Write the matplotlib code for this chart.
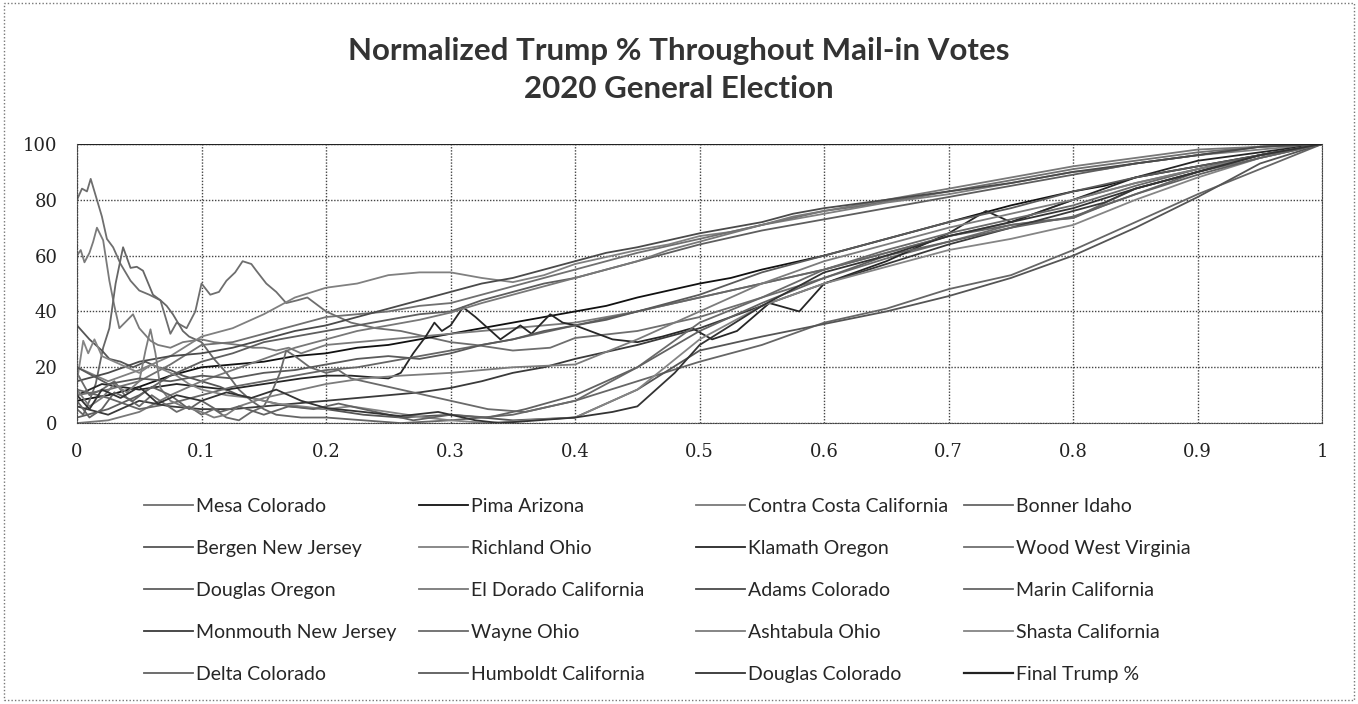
import matplotlib
matplotlib.use("Agg")
import matplotlib.pyplot as plt
from matplotlib.patches import Rectangle

# ---- data (normalized Trump %, 0..100) ----
names = ["Mesa Colorado", "Pima Arizona", "Contra Costa California", "Bonner Idaho",
         "Bergen New Jersey", "Richland Ohio", "Klamath Oregon", "Wood West Virginia",
         "Douglas Oregon", "El Dorado California", "Adams Colorado", "Marin California",
         "Monmouth New Jersey", "Wayne Ohio", "Ashtabula Ohio", "Shasta California",
         "Delta Colorado", "Humboldt California", "Douglas Colorado"]

# fine grid (step 0.025) used by the smoother curves
x_f = [0, 0.025, 0.05, 0.075, 0.1, 0.125, 0.15, 0.175, 0.2, 0.225, 0.25, 0.275, 0.3,
       0.325, 0.35, 0.375, 0.4, 0.425, 0.45, 0.475, 0.5, 0.525, 0.55, 0.575, 0.6, 0.625,
       0.65, 0.675, 0.7, 0.725, 0.75, 0.775, 0.8, 0.825, 0.85, 0.875, 0.9, 0.925, 0.95,
       0.975, 1]

mesa_x = [0, 0.004, 0.008, 0.011, 0.016, 0.02, 0.024, 0.029, 0.035, 0.043, 0.05, 0.058,
          0.067, 0.075, 0.08, 0.088, 0.095, 0.1, 0.107, 0.114, 0.12, 0.127, 0.133, 0.14,
          0.144, 0.152, 0.16, 0.168, 0.177, 0.185, 0.2, 0.21, 0.22, 0.24, 0.26, 0.28, 0.3,
          0.32, 0.35, 0.38, 0.4, 0.45, 0.5, 0.55, 0.6, 0.65, 0.7, 0.75, 0.8, 0.85, 0.9,
          0.95, 1]
mesa_y = [80, 84, 83, 87.5, 80, 74, 66, 63, 57, 51, 47.5, 46, 44, 32, 36, 34, 40, 50, 46,
          47, 51, 54, 58, 57, 54.6, 50, 47, 43, 44, 45, 40, 38, 36, 34, 33, 31, 29, 28, 26,
          27, 30.5, 33, 38, 45, 52, 59, 65, 71, 73.5, 84, 90, 95, 100]

pima_x = x_f
pima_y = [8, 10, 13, 17, 20, 21, 22, 24, 25, 27, 28, 30, 32, 34, 36, 38, 40, 42, 45, 47.5,
          50, 52, 55, 57.5, 60, 63, 66, 69, 72, 75, 78, 80.5, 83, 85, 88, 90, 92, 94, 96,
          98, 100]

contra_x = [0, 0.003, 0.006, 0.01, 0.013, 0.016, 0.021, 0.026, 0.03, 0.034, 0.04, 0.045,
            0.05, 0.059, 0.065, 0.075, 0.085, 0.1, 0.11, 0.12, 0.13, 0.141, 0.15, 0.16,
            0.17, 0.18, 0.2, 0.25, 0.3, 0.35, 0.4, 0.45, 0.5, 0.55, 0.6, 0.65, 0.7, 0.75,
            0.8, 0.85, 0.9, 0.95, 1]
contra_y = [60, 62, 57.6, 61, 65, 70, 65.5, 51, 42, 34, 36.7, 39, 34, 29.5, 28, 27, 29,
            30, 29, 28.5, 28, 27, 27, 26, 27, 25, 28, 30, 32, 34, 36, 40, 45, 50, 55, 61,
            67, 72, 80, 86, 91, 96, 100]

bonner_x = [0, 0.005, 0.01, 0.015, 0.021, 0.026, 0.031, 0.037, 0.043, 0.048, 0.053, 0.061,
            0.067, 0.072, 0.077, 0.085, 0.09, 0.1, 0.11, 0.12, 0.13, 0.14, 0.15, 0.16,
            0.18, 0.2, 0.23, 0.26, 0.3, 0.35, 0.4, 0.45, 0.5, 0.55, 0.6, 0.65, 0.7, 0.75,
            0.8, 0.85, 0.9, 0.95, 1]
bonner_y = [5, 3, 8, 14, 27, 34, 50, 63, 55.6, 56, 54.6, 46, 44, 42, 39, 33, 31, 29, 23,
            18, 12, 8, 5, 3, 2, 2, 1, 0, 1, 3, 8, 15, 22, 28, 36, 41, 48, 53, 62, 72, 82,
            91, 100]

bergen_x = [0, 0.01, 0.02, 0.026, 0.035, 0.045, 0.055, 0.065, 0.075, 0.085, 0.1, 0.115,
            0.13, 0.15, 0.17, 0.2, 0.23, 0.26, 0.3, 0.35, 0.4, 0.45, 0.5, 0.55, 0.6, 0.65,
            0.7, 0.75, 0.8, 0.85, 0.9, 0.95, 1]
bergen_y = [35, 30, 26, 23, 22, 20, 22, 20, 19, 17, 15, 13, 10, 8, 6, 5, 3, 2, 3, 1, 2,
            12, 26, 31, 35.5, 40, 45.5, 52, 60, 70, 81, 93, 100]

richland_x = x_f
richland_y = [20, 15, 19, 24, 31, 34, 39, 45, 48.5, 50, 53, 54, 54, 52, 50.5, 53, 57, 59.5,
              62, 64, 67, 68.5, 71, 73, 75, 77, 79, 80.5, 82, 84, 86, 88, 90, 91, 93, 94.5,
              96, 97, 98, 99, 100]

klamath_x = [0, 0.02, 0.05, 0.08, 0.1, 0.12, 0.15, 0.18, 0.2, 0.22, 0.25, 0.26, 0.27,
             0.28, 0.287, 0.293, 0.3, 0.31, 0.32, 0.34, 0.356, 0.365, 0.38, 0.39, 0.4,
             0.43, 0.45, 0.47, 0.494, 0.51, 0.53, 0.556, 0.58, 0.6, 0.65, 0.7, 0.73, 0.75,
             0.8, 0.85, 0.9, 0.95, 1]
klamath_y = [10, 14, 12, 14, 13, 12, 14, 16, 17, 17, 16, 18, 25, 31, 36, 33, 35, 41.5,
             38, 30, 35, 32, 39, 36, 35, 30, 29, 31, 34, 30, 33, 43, 40, 50, 58, 68, 76,
             72, 80, 88, 94, 97, 100]

wood_x = x_f
wood_y = [10, 12, 15, 21, 28, 29, 32, 35, 38, 39, 40, 42, 43, 46, 49, 52, 55, 58, 61,
          63.5, 66, 68.5, 71, 73.5, 76, 77.5, 79.5, 81, 83, 85, 87, 89, 91, 92.5, 94, 95.5,
          97, 98, 99, 99.5, 100]

douglas_or_x = x_f
douglas_or_y = [2, 5, 10, 17, 22, 25, 29, 31, 33, 35, 37, 39, 40, 44, 47, 50, 52, 55, 58,
                61, 64, 66.5, 69, 71, 73, 75, 77, 79, 81, 83, 85, 87, 89, 91, 93, 94.5, 96,
                97.5, 99, 99.5, 100]

eldorado_x = x_f
eldorado_y = [0, 1, 4, 10, 15, 19, 23, 27, 30, 33, 35, 37, 39.6, 43, 46, 49, 52, 55, 58,
              62, 65, 68, 71, 74, 76, 78, 80, 82, 84, 86, 88, 90, 92, 93.5, 95, 96.5, 98,
              98.5, 99, 99.5, 100]

adams_x = x_f
adams_y = [15, 18, 22, 24, 25, 27, 30, 33, 35, 38, 41, 44, 47, 50, 52, 55, 58, 61, 63,
           65.5, 68, 70, 72, 75, 77, 78.5, 80, 81.5, 83, 84.5, 86, 88, 90, 91.5, 93, 94.5,
           96, 97.5, 99, 99.5, 100]

marin_x = x_f
marin_y = [12, 9, 5, 7, 10, 13, 15, 17, 19, 20, 22, 24, 26, 28, 30, 32.5, 35, 37.5, 40,
           42.5, 45, 47.5, 50, 52.5, 55, 58, 61, 64, 67, 69, 71, 72.5, 73.5, 78, 82, 86,
           90, 93, 96, 98, 100]

monmouth_x = x_f
monmouth_y = [6, 3, 8, 6, 5, 5, 6, 7, 8, 9, 10, 11, 12.6, 15, 18, 20, 23, 25.5, 28, 31,
              34, 38, 42, 46, 50, 53.5, 57, 60.5, 64, 67, 70, 73, 76, 79, 84, 87, 90, 93,
              96, 98, 100]

wayne_x = [0, 0.01, 0.02, 0.03, 0.04, 0.05, 0.06, 0.07, 0.08, 0.09, 0.1, 0.11, 0.12,
           0.13, 0.14, 0.15, 0.157, 0.163, 0.168, 0.175, 0.187, 0.2, 0.21, 0.22, 0.24,
           0.26, 0.28, 0.3, 0.33, 0.36, 0.4, 0.45, 0.5, 0.55, 0.6, 0.65, 0.7, 0.75, 0.8,
           0.85, 0.9, 0.95, 1]
wayne_y = [18, 10, 12, 15, 9, 6, 10, 7, 4, 6, 3, 5, 2, 1, 4, 6, 11.7, 18, 26, 24, 20,
           18, 19, 16, 14, 12, 10, 8, 5, 4, 8, 20, 36, 45, 55, 62, 68, 73, 78, 85, 91,
           96, 100]

ashtabula_x = [0, 0.01, 0.02, 0.03, 0.04, 0.05, 0.055, 0.059, 0.063, 0.067, 0.075,
               0.085, 0.1, 0.11, 0.12, 0.13, 0.15, 0.17, 0.2, 0.23, 0.26, 0.3, 0.35, 0.4,
               0.45, 0.5, 0.55, 0.6, 0.65, 0.7, 0.75, 0.8, 0.85, 0.9, 0.95, 1]
ashtabula_y = [12, 6, 9, 14, 11, 15, 26, 33.6, 25, 12.5, 8, 6, 4, 2, 3, 6, 9, 11, 14,
               16, 17, 18, 20, 21, 30, 40, 50, 58, 64, 70, 75, 80, 86, 91, 96, 100]

shasta_x = [0, 0.005, 0.009, 0.014, 0.02, 0.03, 0.04, 0.05, 0.06, 0.07, 0.08, 0.09, 0.1,
            0.12, 0.14, 0.16, 0.18, 0.2, 0.22, 0.25, 0.28, 0.3, 0.33, 0.36, 0.4, 0.45,
            0.5, 0.55, 0.6, 0.65, 0.7, 0.75, 0.8, 0.85, 0.9, 0.95, 1]
shasta_y = [15, 29.5, 25, 30, 24, 22, 20, 18, 21, 19, 17, 14, 12, 10, 9, 7, 6, 5, 6, 4,
            2, 1, 0, 1, 2, 12, 30, 42, 50, 56, 62, 66, 71, 80, 88, 95, 100]

delta_x = [0, 0.01, 0.02, 0.03, 0.045, 0.06, 0.075, 0.09, 0.1, 0.115, 0.13, 0.15, 0.17,
           0.19, 0.21, 0.23, 0.25, 0.27, 0.3, 0.33, 0.36, 0.4, 0.45, 0.5, 0.55, 0.6,
           0.65, 0.7, 0.75, 0.8, 0.85, 0.9, 0.95, 1]
delta_y = [8, 2, 5, 11, 8, 13, 10, 5, 8, 4, 6, 3, 6, 5, 7, 5, 3, 1, 3, 2, 5, 10, 20, 33,
           43, 52, 60, 65, 70, 74, 82, 89, 95, 100]

humboldt_x = x_f
humboldt_y = [20, 14, 16, 15, 17, 16, 18, 19, 21, 23, 24, 23, 25, 28, 30, 33, 35, 37, 40,
              43, 46, 50, 54, 57, 60, 63, 66, 69, 72, 74.5, 77, 80, 83, 85.5, 88, 90, 92,
              94, 96, 98, 100]

douglas_co_x = [0, 0.01, 0.02, 0.035, 0.05, 0.065, 0.08, 0.1, 0.12, 0.14, 0.16, 0.18,
                0.2, 0.23, 0.26, 0.29, 0.32, 0.34, 0.37, 0.4, 0.43, 0.45, 0.48, 0.5,
                0.55, 0.6, 0.65, 0.7, 0.75, 0.8, 0.85, 0.9, 0.95, 1]
douglas_co_y = [10, 5, 12, 9, 13, 7, 10, 8, 11, 9, 12, 8, 5.4, 4, 2.5, 4, 1, 0, 1, 2, 4,
                6, 18, 28, 42, 54, 60, 67, 72, 77, 84, 90, 96, 100]

final_x = [0, 1]
final_y = [100, 100]

series_x = [mesa_x, pima_x, contra_x, bonner_x, bergen_x, richland_x, klamath_x, wood_x,
            douglas_or_x, eldorado_x, adams_x, marin_x, monmouth_x, wayne_x, ashtabula_x,
            shasta_x, delta_x, humboldt_x, douglas_co_x]
series_y = [mesa_y, pima_y, contra_y, bonner_y, bergen_y, richland_y, klamath_y, wood_y,
            douglas_or_y, eldorado_y, adams_y, marin_y, monmouth_y, wayne_y, ashtabula_y,
            shasta_y, delta_y, humboldt_y, douglas_co_y]

# scan is greyscale; excel colours come out as assorted greys
greys = ['#6e6e6e', '#111111', '#7a7a7a', '#666666', '#555555', '#808080', '#262626',
         '#707070', '#5e5e5e', '#787878', '#4a4a4a', '#666666', '#3a3a3a', '#6a6a6a',
         '#7c7c7c', '#858585', '#626262', '#5a5a5a', '#333333']

fig = plt.figure(figsize=(13.58, 7.04), dpi=100)
ax = fig.add_axes([0.0567, 0.399, 0.917, 0.3965])

handles = []
for xs, ys, nm, c in zip(series_x, series_y, names, greys):
    h, = ax.plot(xs, ys, '-', color=c, linewidth=1.3, label=nm)
    handles.append(h)
h, = ax.plot(final_x, final_y, '-', color='#222222', linewidth=1.6, label='Final Trump %')
handles.append(h)

ax.set_xlim(0, 1)
ax.set_ylim(0, 100)
ax.set_xticks([0, 0.1, 0.2, 0.3, 0.4, 0.5, 0.6, 0.7, 0.8, 0.9, 1])
ax.set_xticklabels(['0', '0.1', '0.2', '0.3', '0.4', '0.5', '0.6', '0.7', '0.8', '0.9', '1'])
ax.set_yticks([0, 20, 40, 60, 80, 100])
ax.grid(True, color='#444444', linestyle=(0, (1, 1.2)), linewidth=1.0)
ax.set_axisbelow(True)
for s in ['left', 'right', 'bottom']:
    ax.spines[s].set_linestyle((0, (1, 1.2)))
    ax.spines[s].set_color('#444444')
ax.spines['top'].set_visible(False)
ax.tick_params(length=0, labelsize=13, colors='#222222')
ax.tick_params(axis='y', pad=14)
ax.tick_params(axis='x', pad=14)
for lab in ax.get_xticklabels() + ax.get_yticklabels():
    lab.set_family('DejaVu Serif')

fig.text(0.5, 0.927, 'Normalized Trump % Throughout Mail-in Votes', ha='center', va='center',
         fontsize=22.5, fontweight='bold', family='Lato', color='#333333')
fig.text(0.5, 0.874, '2020 General Election', ha='center', va='center',
         fontsize=22.5, fontweight='bold', family='Lato', color='#333333')

# excel legend: 4 columns filled row by row, one legend per column
ncol = 4
col_px = [126, 401, 678, 946]
for c in range(ncol):
    idx = list(range(c, len(handles), ncol))
    leg = fig.legend([handles[i] for i in idx], [handles[i].get_label() for i in idx],
                     loc='upper left', bbox_to_anchor=(col_px[c] / 1358, 0.318),
                     frameon=False, prop={'family': 'Lato', 'size': 14},
                     handlelength=2.55, handletextpad=0.15, labelspacing=1.29)
    for t in leg.get_texts():
        t.set_color('#262626')

# dotted border round the whole chart
fig.patches.append(Rectangle((0.003, 0.006), 0.994, 0.99, transform=fig.transFigure,
                             fill=False, edgecolor='#777777', linewidth=1.0,
                             linestyle=(0, (1, 1.5))))

fig.savefig('out.png', dpi=100)
